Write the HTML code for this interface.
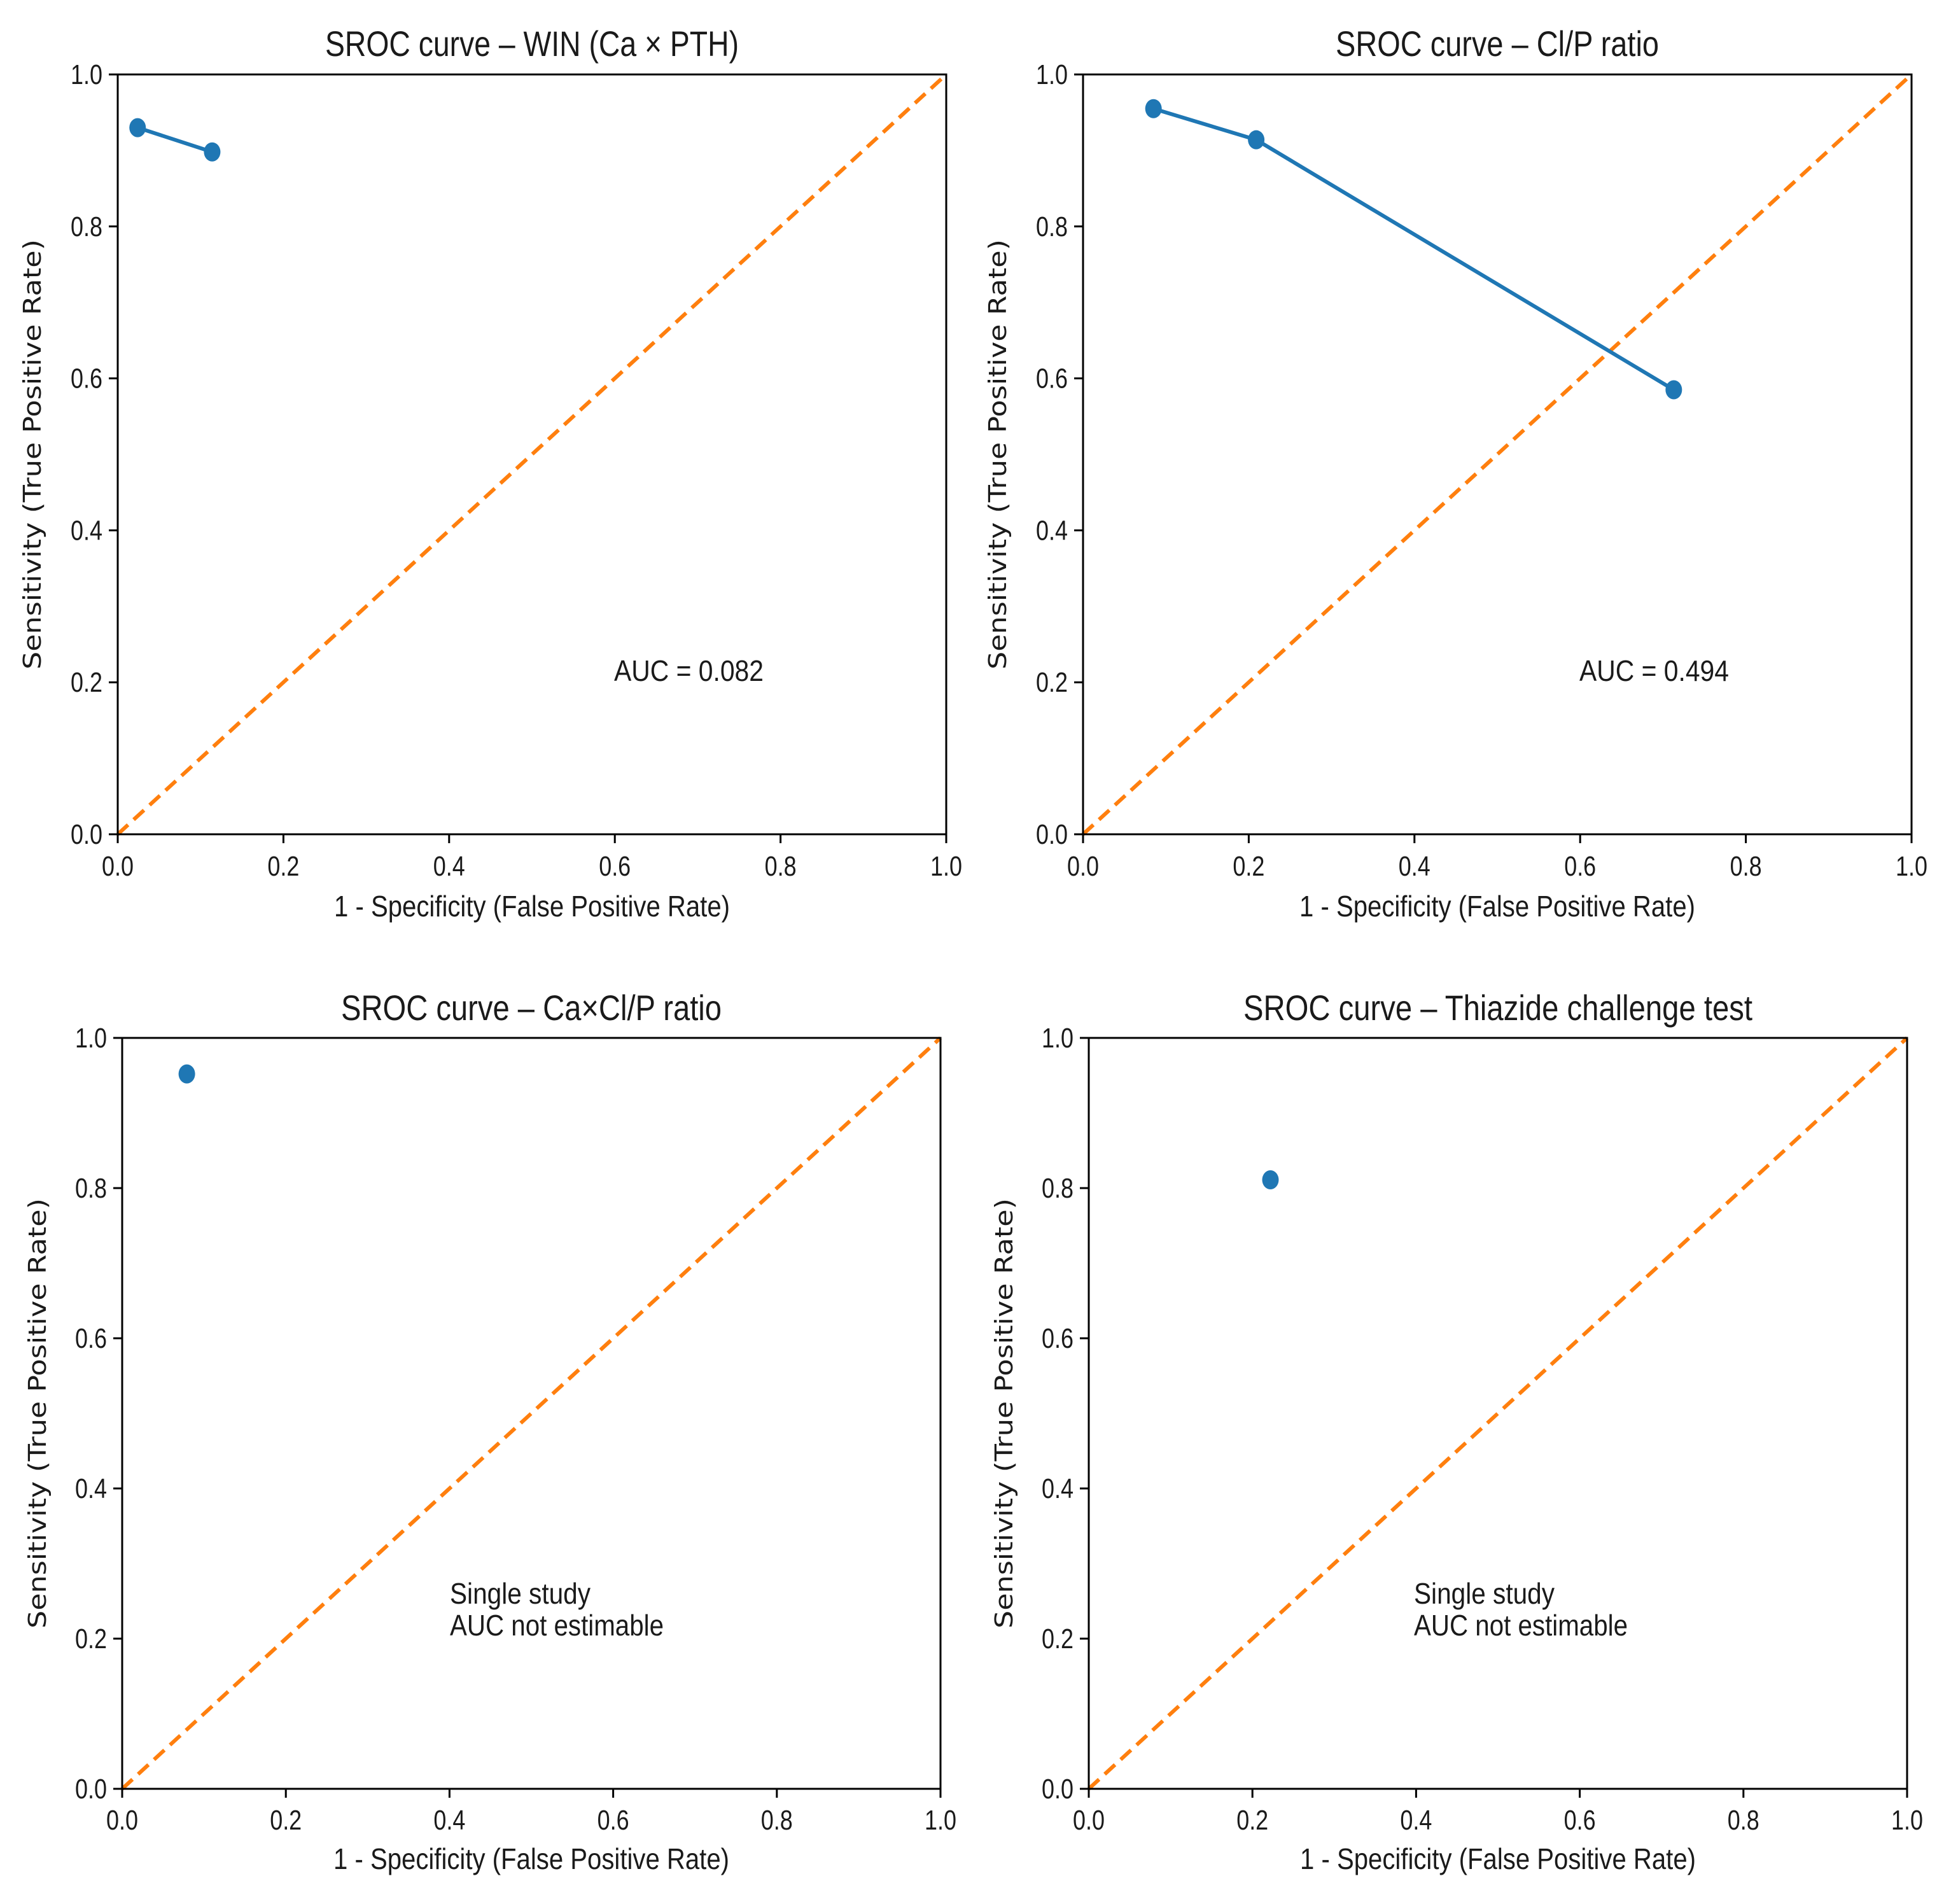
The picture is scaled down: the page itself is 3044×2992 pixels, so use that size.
<!DOCTYPE html>
<html><head><meta charset="utf-8"><style>
html,body{margin:0;padding:0;background:#fff;}
svg{display:block;}
text{font-family:"Liberation Sans",sans-serif;fill:#1a1a1a;}
</style></head>
<body>
<svg id="chart" width="3044" height="2992" viewBox="0 0 3044 2992" xmlns="http://www.w3.org/2000/svg"></svg>
<script>
// Panel data
const panelTitles = ["SROC curve – WIN (Ca × PTH)", "SROC curve – Cl/P ratio", "SROC curve – Ca×Cl/P ratio", "SROC curve – Thiazide challenge test"];
const fprWin = [0.024, 0.114];
const tprWin = [0.930, 0.898];
const fprClp = [0.085, 0.209, 0.713];
const tprClp = [0.955, 0.914, 0.585];
const fprCaClp = [0.079];
const tprCaClp = [0.952];
const fprThiazide = [0.222];
const tprThiazide = [0.811];
const annotations = [["AUC = 0.082"], ["AUC = 0.494"], ["Single study", "AUC not estimable"], ["Single study", "AUC not estimable"]];
const tickValues = [0, 0.2, 0.4, 0.6, 0.8, 1.0];
const tickLabels = ["0.0", "0.2", "0.4", "0.6", "0.8", "1.0"];

const NS = "http://www.w3.org/2000/svg";
const svg = document.getElementById("chart");
function mk(tag, attrs, parent) {
  const e = document.createElementNS(NS, tag);
  for (const k in attrs) e.setAttribute(k, attrs[k]);
  (parent || svg).appendChild(e);
  return e;
}
const layouts = [
  {l:185, t:117, r:1487, b:1311, titleY:88, tickY:1376, xlabY:1440, annX:965, annY:1070, ylabX:64},
  {l:1702, t:117, r:3004, b:1311, titleY:88, tickY:1376, xlabY:1440, annX:2482, annY:1070, ylabX:1581},
  {l:192, t:1631, r:1478, b:2811, titleY:1603, tickY:2875, xlabY:2937, annX:707, annY:2520, ylabX:72},
  {l:1711, t:1631, r:2997, b:2811, titleY:1603, tickY:2875, xlabY:2937, annX:2222, annY:2520, ylabX:1591}
];
const xsData = [fprWin, fprClp, fprCaClp, fprThiazide];
const ysData = [tprWin, tprClp, tprCaClp, tprThiazide];
const titleLens = [650, 508, 598, 800];
const annLens = {"AUC = 0.082":235, "AUC = 0.494":235, "Single study":221, "AUC not estimable":336};

layouts.forEach((L, i) => {
  const g = mk("g", {});
  
  
  const sx = v => L.l + v * (L.r - L.l);
  const sy = v => L.b - v * (L.b - L.t);
  const d = mk("line", {x1:sx(0), y1:sy(0), x2:sx(1), y2:sy(1), stroke:"#ff7f0e", "stroke-width":6, "stroke-dasharray":"22 12"}, g);
  
  
  const f = mk("rect", {x:L.l, y:L.t, width:L.r - L.l, height:L.b - L.t, fill:"none", stroke:"#000", "stroke-width":3}, g);
  
  
  tickValues.forEach((v, k) => {
    mk("line", {x1:sx(v), y1:L.b, x2:sx(v), y2:L.b + 14, stroke:"#000", "stroke-width":3}, g);
    const xt = mk("text", {x:sx(v), y:L.tickY, "text-anchor":"middle", "font-size":44, textLength:50, lengthAdjust:"spacingAndGlyphs"}, g);
    xt.textContent = tickLabels[k];
    
    
    mk("line", {x1:L.l - 14, y1:sy(v), x2:L.l, y2:sy(v), stroke:"#000", "stroke-width":3}, g);
    const yt = mk("text", {x:L.l - 24, y:sy(v) + 15, "text-anchor":"end", "font-size":44, textLength:50, lengthAdjust:"spacingAndGlyphs"}, g);
    yt.textContent = tickLabels[k];
    
    
  });
  const xs = xsData[i], ys = ysData[i];
  if (xs.length > 1) {
    const pl = mk("polyline", {points: xs.map((x, k) => sx(x) + "," + sy(ys[k])).join(" "), fill:"none", stroke:"#1f77b4", "stroke-width":6}, g);
    
    
  }
  xs.forEach((x, k) => {
    const c = mk("ellipse", {cx:sx(x), cy:sy(ys[k]), rx:13, ry:15, fill:"#1f77b4"}, g);
    
    
  });
  const t = mk("text", {x:(L.l + L.r) / 2, y:L.titleY, "text-anchor":"middle", "font-size":56, textLength:titleLens[i], lengthAdjust:"spacingAndGlyphs"}, g);
  t.textContent = panelTitles[i];
  
  
  const xl = mk("text", {x:(L.l + L.r) / 2, y:L.xlabY, "text-anchor":"middle", "font-size":46, textLength:622, lengthAdjust:"spacingAndGlyphs"}, g);
  xl.textContent = "1 - Specificity (False Positive Rate)";
  
  
  const cy = (L.t + L.b) / 2;
  const yl = mk("text", {x:L.ylabX, y:cy, "text-anchor":"middle", "font-size":38, transform:"rotate(-90 " + L.ylabX + " " + cy + ")", textLength:676, lengthAdjust:"spacingAndGlyphs", style:"font-family:'DejaVu Sans',sans-serif"}, g);
  yl.textContent = "Sensitivity (True Positive Rate)";
  
  
  annotations[i].forEach((line, k) => {
    const a = mk("text", {x:L.annX, y:L.annY + k * 50, "font-size":46, textLength:annLens[line], lengthAdjust:"spacingAndGlyphs"}, g);
    a.textContent = line;
    
    
  });
});
</script>
</body></html>
